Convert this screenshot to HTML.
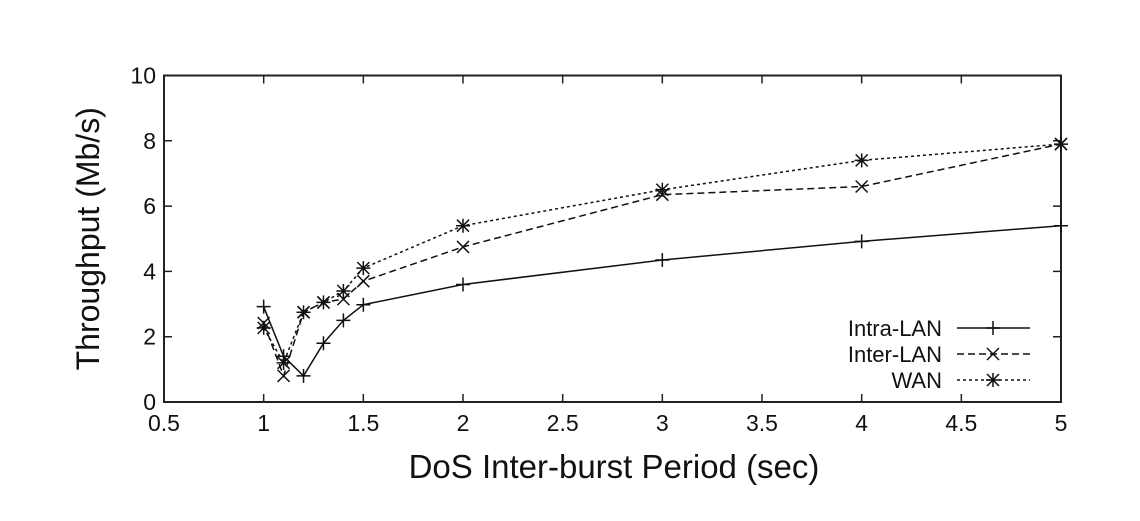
<!DOCTYPE html>
<html><head><meta charset="utf-8"><style>
body{margin:0;background:#fff}
svg text{font-family:"Liberation Sans",sans-serif;fill:#111}
</style></head><body>
<svg id="c" width="1140" height="516" xmlns="http://www.w3.org/2000/svg"></svg>
<script>
const xs=[1,1.1,1.2,1.3,1.4,1.5,2,3,4,5];
const intra=[2.92,1.4,0.8,1.8,2.5,2.98,3.6,4.35,4.92,5.4];
const inter=[2.42,0.8,2.75,3.05,3.15,3.7,4.75,6.35,6.6,7.9];
const wan=[2.27,1.2,2.75,3.05,3.4,4.1,5.4,6.5,7.4,7.9];
const xTicks=[0.5,1,1.5,2,2.5,3,3.5,4,4.5,5];
const yTicks=[0,2,4,6,8,10];
const L=164,R=1061,T=75.5,B=402;
const X=v=>L+(v-0.5)/4.5*(R-L);
const Y=v=>B-v/10*(B-T);
const svg=document.getElementById('c');
const NS='http://www.w3.org/2000/svg';
function mk(t,a,p){const e=document.createElementNS(NS,t);for(const k in a)e.setAttribute(k,a[k]);(p||svg).appendChild(e);return e;}
const frame=mk('rect',{x:L,y:T,width:R-L,height:B-T,fill:'none',stroke:'#222','stroke-width':2});


xTicks.forEach(v=>{
 const x=X(v);
 const t=mk('path',{d:`M${x},${B}v-8M${x},${T}v8`,stroke:'#222','stroke-width':1.5});
 
 
 const l=mk('text',{x:x,y:B+29,'text-anchor':'middle','font-size':23});l.textContent=v;
 
 
});
yTicks.forEach(v=>{
 const y=Y(v);
 const t=mk('path',{d:`M${L},${y}h8M${R},${y}h-8`,stroke:'#222','stroke-width':1.5});
 
 
 const l=mk('text',{x:L-8,y:y+8,'text-anchor':'end','font-size':23});l.textContent=v;
 
 
});
const xt=mk('text',{x:614,y:478,'text-anchor':'middle','font-size':33});xt.textContent='DoS Inter-burst Period (sec)';


const yt=mk('text',{x:0,y:0,'text-anchor':'middle','font-size':32,transform:`translate(99,${(T+B)/2}) rotate(-90)`});yt.textContent='Throughput (Mb/s)';


function marker(kind,x,y,g){
 let d='';
 if(kind==='plus'||kind==='star')d+=`M${x-7},${y}h14M${x},${y-7}v14`;
 if(kind==='x'||kind==='star')d+=`M${x-6},${y-6}l12,12M${x-6},${y+6}l12,-12`;
 mk('path',{d:d,stroke:'#111','stroke-width':1.5,fill:'none'},g);
}
const series=[['intra-lan',intra,'plus','','Intra-LAN'],['inter-lan',inter,'x','7,4','Inter-LAN'],['wan',wan,'star','3,3','WAN']];
series.forEach((s,i)=>{
 const g=mk('g',{});
 
 
 const pts=xs.map((v,j)=>X(v)+','+Y(s[1][j])).join(' ');
 mk('polyline',{points:pts,fill:'none',stroke:'#111','stroke-width':1.5,'stroke-dasharray':s[3]},g);
 xs.forEach((v,j)=>marker(s[2],X(v),Y(s[1][j]),g));
 const ly=328+i*26;
 const lg=mk('g',{});
 
 
 const lt=mk('text',{x:942,y:ly+8,'text-anchor':'end','font-size':22},lg);lt.textContent=s[4];
 mk('path',{d:`M957,${ly}H1030`,stroke:'#111','stroke-width':1.5,'stroke-dasharray':s[3]},lg);
 marker(s[2],993,ly,lg);
});
</script>
</body></html>
